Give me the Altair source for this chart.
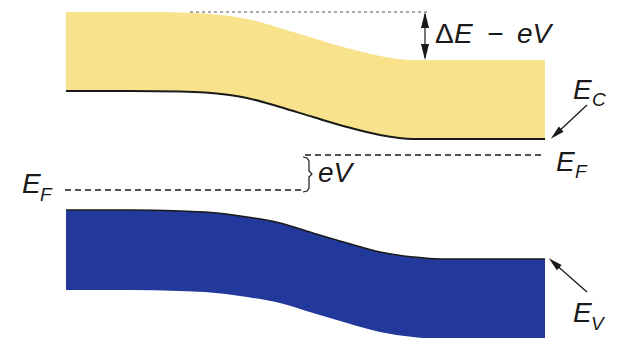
import altair as alt
import pandas as pd

# ---- band profiles (position px, level px from top) ----
pos     = [66, 130, 180, 205, 247, 280, 313, 347, 380, 413, 440, 545]
cb_top  = [12, 12, 12.5, 13.5, 19, 28, 38, 48, 56, 60, 60, 60]
cb_edge = [91, 91, 91.5, 92.5, 98, 107, 117, 127, 135, 139, 139, 139]   # E_C
vb_edge = [210, 210, 211, 212, 217, 223, 233, 243, 252, 257, 259, 259]  # E_V
vb_bot  = [290, 290, 291, 292, 297, 303, 313, 323, 332, 337, 339, 339]

# ---- Fermi levels (x start, x end, level) ----
ef_x1 = [305, 65]
ef_x2 = [545, 305]
ef_y  = [155, 190]

# ---- Delta E - eV marker ----
dot_x1, dot_x2, dot_y = [190], [428], [12]
arr_x, arr_y1, arr_y2 = [425], [14], [58]
head_x = [425, 425]
head_y = [20, 52]
head_angle = [0, 180]

# ---- pointer arrows (E_C, E_V) ----
ptr_x1 = [587, 587]
ptr_y1 = [105, 292]
ptr_x2 = [556, 554]
ptr_y2 = [134, 263]
ptr_angle = [227, 312]

# ---- brace ----
brace_x = [303, 307, 309, 309, 312, 309, 309, 307, 303]
brace_y = [157, 158, 161, 171, 174, 177, 188, 191, 192]

# ---- labels ----
main_txt = ["\u0394"]
main_x, main_y = [435], [43]
it_txt = ["E\u2002\u2212\u2002eV", "E", "E", "E", "E", "eV"]
it_x   = [454, 573, 556, 22, 573, 318]
it_y   = [43, 99, 171, 193, 322, 182]
sub_txt = ["C", "F", "F", "V"]
sub_x   = [592, 575, 40, 591]
sub_y   = [106, 178, 201, 330]

YELLOW = "#F8E38C"
BLUE = "#22399B"
INK = "#1a1a1a"

W, H = 604, 330
xs = alt.Scale(domain=[8, 8 + W], nice=False, zero=False)
ys = alt.Scale(domain=[8, 8 + H], nice=False, zero=False, reverse=True)

def X(f="x"):
    return alt.X(f"{f}:Q", scale=xs, axis=None)

def Y(f="y"):
    return alt.Y(f"{f}:Q", scale=ys, axis=None)

band = pd.DataFrame({"x": pos, "ct": cb_top, "ce": cb_edge, "ve": vb_edge, "vb": vb_bot})

cb_area = alt.Chart(band).mark_area(color=YELLOW, interpolate="monotone").encode(
    x=X(), y=Y("ct"), y2="ce:Q")
cb_line = alt.Chart(band).mark_line(color=INK, strokeWidth=2, interpolate="monotone").encode(
    x=X(), y=Y("ce"))
vb_area = alt.Chart(band).mark_area(color=BLUE, interpolate="monotone").encode(
    x=X(), y=Y("ve"), y2="vb:Q")
vb_line = alt.Chart(band).mark_line(color=INK, strokeWidth=1.5, interpolate="monotone").encode(
    x=X(), y=Y("ve"))

ef = pd.DataFrame({"x": ef_x1, "x2": ef_x2, "y": ef_y})
ef_rules = alt.Chart(ef).mark_rule(color=INK, strokeWidth=1.3, strokeDash=[6, 4]).encode(
    x=X(), x2="x2:Q", y=Y())

dots = pd.DataFrame({"x": dot_x1, "x2": dot_x2, "y": dot_y})
dot_rule = alt.Chart(dots).mark_rule(color="#555555", strokeWidth=1, strokeDash=[3, 3]).encode(
    x=X(), x2="x2:Q", y=Y())

arr = pd.DataFrame({"x": arr_x, "y": arr_y1, "y2": arr_y2})
arr_rule = alt.Chart(arr).mark_rule(color=INK, strokeWidth=1.2).encode(
    x=X(), y=Y(), y2="y2:Q")

HEAD = "M0,-1L0.5,1L-0.5,1Z"
heads = pd.DataFrame({"x": head_x, "y": head_y, "a": head_angle})
head_pts = alt.Chart(heads).mark_point(shape=HEAD, filled=True, color=INK, size=256, opacity=1).encode(
    x=X(), y=Y(), angle=alt.Angle("a:Q", scale=None))

ptr = pd.DataFrame({"x": ptr_x1, "y": ptr_y1, "x2": ptr_x2, "y2": ptr_y2, "a": ptr_angle})
ptr_rule = alt.Chart(ptr).mark_rule(color=INK, strokeWidth=1.3).encode(
    x=X(), y=Y(), x2="x2:Q", y2="y2:Q")
ptr_head = alt.Chart(ptr).mark_point(shape=HEAD, filled=True, color=INK, size=200, opacity=1).encode(
    x=X("x2"), y=Y("y2"), angle=alt.Angle("a:Q", scale=None))

brace = pd.DataFrame({"x": brace_x, "y": brace_y, "o": list(range(len(brace_x)))})
brace_line = alt.Chart(brace).mark_line(color=INK, strokeWidth=1.2).encode(
    x=X(), y=Y(), order="o:Q")

FONT = "Liberation Sans"
t_main = alt.Chart(pd.DataFrame({"x": main_x, "y": main_y, "t": main_txt})).mark_text(
    font=FONT, fontSize=28, align="left", baseline="alphabetic", color=INK).encode(
    x=X(), y=Y(), text="t:N")
t_it = alt.Chart(pd.DataFrame({"x": it_x, "y": it_y, "t": it_txt})).mark_text(
    font=FONT, fontSize=28, fontStyle="italic", align="left", baseline="alphabetic", color=INK).encode(
    x=X(), y=Y(), text="t:N")
t_sub = alt.Chart(pd.DataFrame({"x": sub_x, "y": sub_y, "t": sub_txt})).mark_text(
    font=FONT, fontSize=19, fontStyle="italic", align="left", baseline="alphabetic", color=INK).encode(
    x=X(), y=Y(), text="t:N")

chart = alt.layer(
    cb_area, vb_area, cb_line, vb_line, dot_rule, ef_rules, arr_rule, head_pts,
    ptr_rule, ptr_head, brace_line, t_main, t_it, t_sub
).properties(width=W, height=H, padding=0, autosize="none").configure_view(stroke=None)

chart.save("out.html", embed_options={"renderer": "svg", "actions": False})
